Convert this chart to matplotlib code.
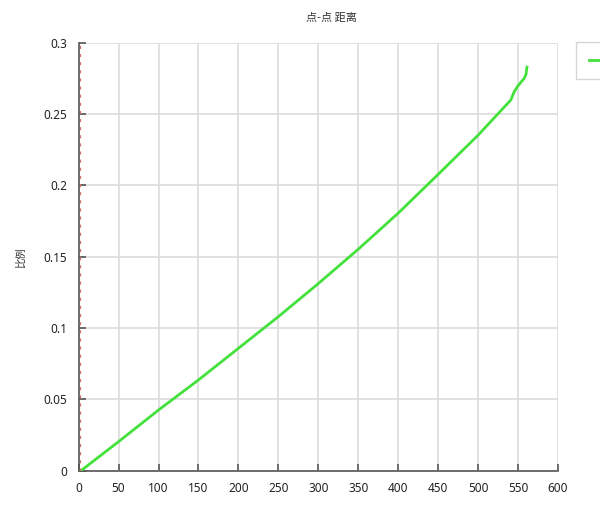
import numpy as np
import matplotlib.pyplot as plt

plt.rcParams['font.family'] = ['Noto Sans', 'Noto Sans CJK SC', 'DejaVu Sans']

# values
dist = [3, 50, 100, 150, 200, 250, 300, 350, 400, 450, 500,
        541, 545, 549.5, 558, 560, 560.8, 561.2]
ratio = [0.0, 0.0203, 0.0425, 0.0636, 0.0858, 0.108, 0.1312, 0.1553,
         0.1806, 0.2078, 0.2353, 0.260, 0.2656, 0.2696, 0.2754, 0.278,
         0.282, 0.283]
x_ticks = [0, 50, 100, 150, 200, 250, 300, 350, 400, 450, 500, 550, 600]
y_ticks = [0, 0.05, 0.1, 0.15, 0.2, 0.25, 0.3]
y_labels = ['0', '0.05', '0.1', '0.15', '0.2', '0.25', '0.3']

fig = plt.figure(figsize=(6.0, 5.11), dpi=100)
ax = fig.add_axes([0.131, 0.079, 0.799, 0.837])

line, = ax.plot(dist, ratio, color='#44e03c', linewidth=2, zorder=3)
# dashed marker line hugging the y axis
ax.axvline(1.6, color='#d07070', linestyle=(0, (2.5, 4)), linewidth=0.9, zorder=4)

ax.set_xlim(0, 600)
ax.set_ylim(0, 0.3)
ax.set_xticks(x_ticks)
ax.set_yticks(y_ticks)
ax.set_yticklabels(y_labels)
ax.grid(True, color='#dcdcdc', linewidth=1.2)
ax.set_axisbelow(True)

for s in ['top', 'right']:
    ax.spines[s].set_visible(False)
for s in ['left', 'bottom']:
    ax.spines[s].set_color('#555555')
    ax.spines[s].set_linewidth(1.2)
ax.tick_params(direction='in', length=5, width=1.2, color='#555555',
               labelsize=8.5, labelcolor='#222222', pad=8)

cjk = ['Noto Sans CJK SC', 'DejaVu Sans']
fig.text(0.553, 0.966, '点-点 距离', ha='center', va='center', fontsize=8,
         color='#333333', family=cjk)
fig.text(0.035, 0.495, '比例', ha='center', va='center', rotation=90,
         fontsize=7.5, color='#333333', family=cjk)

# legend box runs off the right edge; its label is not visible
leg = fig.legend([line], [' '], loc='upper left', bbox_to_anchor=(0.95, 0.928),
                 frameon=True, fancybox=False, borderpad=1.2, handlelength=2.5,
                 prop={'family': cjk, 'size': 8})
leg.get_frame().set_edgecolor('#cccccc')

fig.savefig('out.png', dpi=100)
